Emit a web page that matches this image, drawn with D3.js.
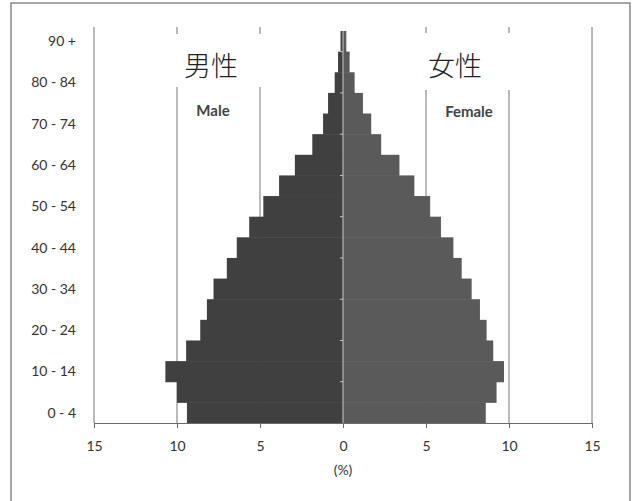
<!DOCTYPE html>
<html>
<head>
<meta charset="utf-8">
<script src="https://cdn.jsdelivr.net/npm/d3@7"></script>
<style>
  body { margin: 0; background: #fff; }
  svg { display: block; }
</style>
</head>
<body>
<div id="chart"></div>
<script>
// Age groups, bottom to top
const ageGroups = ["0 - 4", "5 - 9", "10 - 14", "15 - 19", "20 - 24", "25 - 29", "30 - 34",
  "35 - 39", "40 - 44", "45 - 49", "50 - 54", "55 - 59", "60 - 64", "65 - 69", "70 - 74",
  "75 - 79", "80 - 84", "85 - 89", "90 +"];

// Share of population (%) per age group
const maleValues = [9.4, 10.0, 10.7, 9.45, 8.6, 8.2, 7.8, 7.0, 6.4, 5.65, 4.8, 3.85, 2.9,
  1.85, 1.2, 0.9, 0.5, 0.3, 0.15];
const femaleValues = [8.6, 9.25, 9.7, 9.05, 8.65, 8.25, 7.75, 7.15, 6.65, 5.9, 5.25, 4.3, 3.4,
  2.3, 1.7, 1.2, 0.7, 0.4, 0.2];

// Axis ticks
const xTicks = [-15, -10, -5, 0, 5, 10, 15];
const yTickLabels = ["0 - 4", "10 - 14", "20 - 24", "30 - 34", "40 - 44", "50 - 54",
  "60 - 64", "70 - 74", "80 - 84", "90 +"];

const width = 633;
const height = 501;
const plot = {left: 94, right: 592, top: 31, bottom: 423};
const font = "Lato, 'Open Sans', sans-serif";

const svg = d3.select("#chart").append("svg")
  .attr("width", width)
  .attr("height", height);

// Outer frame (bottom edge runs off the picture)
svg.append("rect")
  .attr("x", 11)
  .attr("y", 3)
  .attr("width", 619)
  .attr("height", 520)
  .attr("fill", "none")
  .attr("stroke", "#8a8a8a")
  .attr("stroke-width", 1.5);

// Scales
const x = d3.scaleLinear()
  .domain([-15, 15])
  .range([plot.left, plot.right]);

const y = d3.scaleBand()
  .domain(ageGroups)
  .range([plot.bottom, plot.top])
  .paddingInner(0)
  .paddingOuter(0);

// Vertical gridlines (not at 0)
svg.append("g")
  .attr("class", "grid")
  .selectAll("line")
  .data(xTicks.filter(d => d !== 0))
  .join("line")
    .attr("x1", d => x(d))
    .attr("x2", d => x(d))
    .attr("y1", 27)
    .attr("y2", plot.bottom)
    .attr("stroke", "#777")
    .attr("stroke-width", 1);

// Male bars (left)
svg.append("g")
  .selectAll("rect")
  .data(ageGroups.map((g, i) => ({group: g, value: maleValues[i]})))
  .join("rect")
    .attr("x", d => x(-d.value))
    .attr("y", d => y(d.group))
    .attr("width", d => x(0) - x(-d.value))
    .attr("height", y.bandwidth() + 0.5)
    .attr("fill", "#404040");

// Female bars (right)
svg.append("g")
  .selectAll("rect")
  .data(ageGroups.map((g, i) => ({group: g, value: femaleValues[i]})))
  .join("rect")
    .attr("x", x(0))
    .attr("y", d => y(d.group))
    .attr("width", d => x(d.value) - x(0))
    .attr("height", y.bandwidth() + 0.5)
    .attr("fill", "#5a5a5a");

// Light centre axis with small ticks every ten years
const centre = svg.append("g").attr("class", "centre-axis");
centre.append("line")
  .attr("x1", x(0))
  .attr("x2", x(0))
  .attr("y1", plot.top)
  .attr("y2", plot.bottom)
  .attr("stroke", "#c8c8c8")
  .attr("stroke-width", 1);
centre.selectAll(".ctick")
  .data(yTickLabels.slice(1))
  .join("line")
    .attr("class", "ctick")
    .attr("x1", x(0) - 3)
    .attr("x2", x(0))
    .attr("y1", d => y(d) + y.bandwidth())
    .attr("y2", d => y(d) + y.bandwidth())
    .attr("stroke", "#c8c8c8");

// Bottom axis
const xAxis = d3.axisBottom(x)
  .tickValues(xTicks)
  .tickSize(5)
  .tickFormat(d => Math.abs(d));

const gx = svg.append("g")
  .attr("transform", `translate(0,${plot.bottom})`)
  .call(xAxis);
gx.select(".domain").attr("stroke", "#6a6a6a");
gx.selectAll(".tick line").attr("stroke", "#6a6a6a");
gx.selectAll(".tick text")
  .attr("dy", "1.4em")
  .attr("font-family", font)
  .attr("font-size", 14)
  .attr("fill", "#333");

// Axis unit
svg.append("text")
  .attr("x", x(0))
  .attr("y", 475)
  .attr("text-anchor", "middle")
  .attr("font-family", font)
  .attr("font-size", 14)
  .attr("fill", "#333")
  .text("(%)");

// Left age labels
svg.append("g")
  .selectAll("text")
  .data(yTickLabels)
  .join("text")
    .attr("x", 76)
    .attr("y", d => y(d) + y.bandwidth() / 2)
    .attr("dy", "0.35em")
    .attr("text-anchor", "end")
    .attr("font-family", font)
    .attr("font-size", 14)
    .attr("fill", "#333")
    .text(d => d);

// Japanese titles on white boxes
const titles = [
  {text: "男性", box: [174, 34, 89, 53], cx: 211},
  {text: "女性", box: [407, 33, 105, 57], cx: 455}
];
titles.forEach(t => {
  svg.append("rect")
    .attr("x", t.box[0])
    .attr("y", t.box[1])
    .attr("width", t.box[2])
    .attr("height", t.box[3])
    .attr("fill", "#fff");
  svg.append("text")
    .attr("x", t.cx)
    .attr("y", 76)
    .attr("text-anchor", "middle")
    .attr("font-family", "'Noto Sans CJK JP', sans-serif")
    .attr("font-weight", 300)
    .attr("font-size", 27)
    .attr("fill", "#222")
    .text(t.text);
});

// English sub labels
svg.append("text")
  .attr("x", 213)
  .attr("y", 116)
  .attr("text-anchor", "middle")
  .attr("font-family", font)
  .attr("font-weight", "bold")
  .attr("font-size", 15)
  .attr("fill", "#444")
  .text("Male");

svg.append("text")
  .attr("x", 469)
  .attr("y", 117)
  .attr("text-anchor", "middle")
  .attr("font-family", font)
  .attr("font-weight", "bold")
  .attr("font-size", 15)
  .attr("fill", "#444")
  .text("Female");
</script>
</body>
</html>
